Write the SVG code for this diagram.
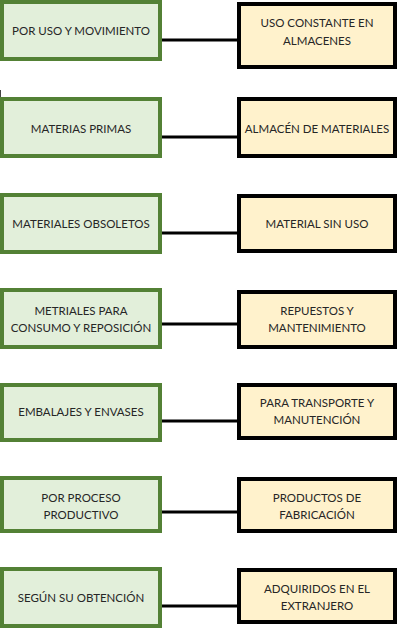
<svg xmlns="http://www.w3.org/2000/svg" width="402" height="629" viewBox="0 0 402 629">
<style>
.g{fill:#E2EFDA;stroke:#538135;stroke-width:4}
.y{fill:#FFF2CC;stroke:#000;stroke-width:4}
.c{stroke:#000;stroke-width:3;fill:none}
text{font-family:Lato,"Liberation Sans",sans-serif;font-size:11.5px;fill:#262626;text-anchor:middle;dominant-baseline:central}
</style>
<rect width="402" height="629" fill="#fff"/>
<line x1="0.5" y1="90" x2="0.5" y2="97" stroke="#444" stroke-width="1"/>
<g id="connectors">
<line class="c" x1="162" y1="40" x2="237" y2="40"/>
<line class="c" x1="162" y1="137" x2="237" y2="137"/>
<line class="c" x1="162" y1="233" x2="237" y2="233"/>
<line class="c" x1="162" y1="324" x2="237" y2="324"/>
<line class="c" x1="162" y1="421" x2="237" y2="421"/>
<line class="c" x1="162" y1="512" x2="237" y2="512"/>
<line class="c" x1="162" y1="606" x2="237" y2="606"/>
</g>
<g id="l1"><rect class="g" x="2" y="2" width="158" height="57"/><text x="81" y="30">POR USO Y MOVIMIENTO</text></g>
<g id="r1"><rect class="y" x="239" y="4" width="156" height="63"/><text x="317" y="22">USO CONSTANTE EN</text><text x="317" y="40">ALMACENES</text></g>
<g id="l2"><rect class="g" x="2" y="99" width="158" height="57"/><text x="81" y="128">MATERIAS PRIMAS</text></g>
<g id="r2"><rect class="y" x="239" y="99" width="156" height="57"/><text x="317" y="128">ALMACÉN DE MATERIALES</text></g>
<g id="l3"><rect class="g" x="2" y="195" width="158" height="57"/><text x="81" y="223">MATERIALES OBSOLETOS</text></g>
<g id="r3"><rect class="y" x="239" y="196" width="156" height="55"/><text x="317" y="223">MATERIAL SIN USO</text></g>
<g id="l4"><rect class="g" x="2" y="290" width="158" height="57"/><text x="81" y="310">METRIALES PARA</text><text x="81" y="327">CONSUMO Y REPOSICIÓN</text></g>
<g id="r4"><rect class="y" x="239" y="292" width="156" height="55"/><text x="317" y="310">REPUESTOS Y</text><text x="317" y="327">MANTENIMIENTO</text></g>
<g id="l5"><rect class="g" x="2" y="385" width="158" height="55"/><text x="81" y="411">EMBALAJES Y ENVASES</text></g>
<g id="r5"><rect class="y" x="239" y="385" width="156" height="53"/><text x="317" y="402">PARA TRANSPORTE Y</text><text x="317" y="419">MANUTENCIÓN</text></g>
<g id="l6"><rect class="g" x="2" y="478" width="158" height="53"/><text x="81" y="497">POR PROCESO</text><text x="81" y="514">PRODUCTIVO</text></g>
<g id="r6"><rect class="y" x="239" y="479" width="156" height="52"/><text x="317" y="497">PRODUCTOS DE</text><text x="317" y="514">FABRICACIÓN</text></g>
<g id="l7"><rect class="g" x="2" y="569" width="158" height="57"/><text x="81" y="597">SEGÚN SU OBTENCIÓN</text></g>
<g id="r7"><rect class="y" x="239" y="570" width="156" height="52"/><text x="317" y="588">ADQUIRIDOS EN EL</text><text x="317" y="605">EXTRANJERO</text></g>
</svg>
